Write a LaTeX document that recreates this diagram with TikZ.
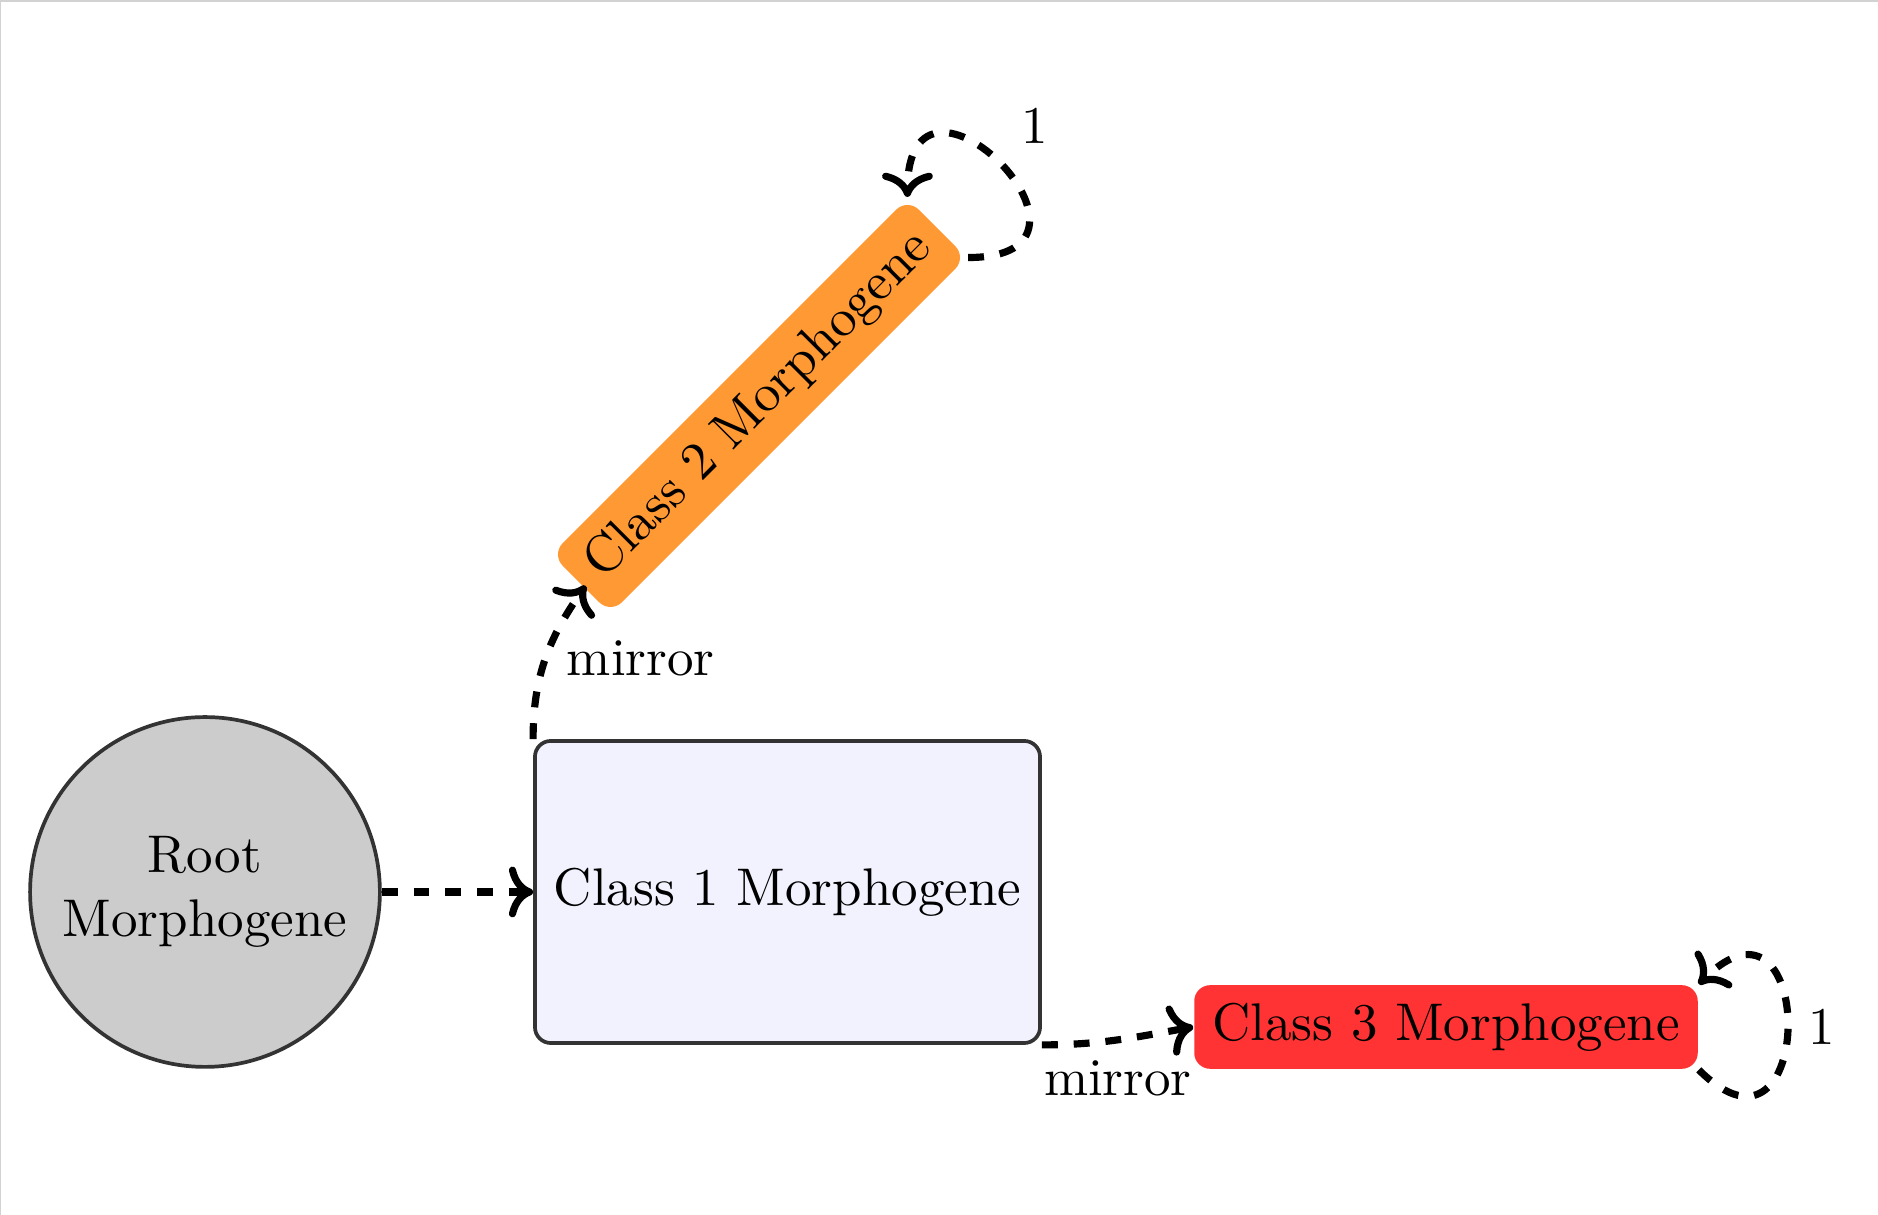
\documentclass[tikz,border=0pt]{standalone}
\usetikzlibrary{arrows.meta}
\definecolor{framegray}{RGB}{210,210,210}
\definecolor{edgegray}{RGB}{51,51,51}
\definecolor{rootfill}{RGB}{204,204,204}
\definecolor{c1fill}{RGB}{241,242,253}
\definecolor{c2fill}{RGB}{255,153,51}
\definecolor{c3fill}{RGB}{255,51,51}
\tikzset{
  rootnode/.style={circle, draw=edgegray, line width=0.7pt, fill=rootfill, minimum size=66pt, inner sep=2pt, align=center},
  classone/.style={rectangle, rounded corners=3pt, draw=edgegray, line width=0.7pt, fill=c1fill, minimum width=95.3pt, minimum height=57pt},
  classtwo/.style={rectangle, rounded corners=3pt, fill=c2fill, minimum width=95pt, minimum height=15.4pt, rotate=45},
  classthree/.style={rectangle, rounded corners=3pt, fill=c3fill, minimum width=95pt, minimum height=15.2pt},
  flow/.style={->, dashed, line width=1.35pt, black}
}
\begin{document}
\begin{tikzpicture}[x=0.18868pt, y=0.18868pt]
\useasboundingbox (0,0) rectangle (1878,-1215);
\draw[framegray, line width=0.4pt] (0,-1) -- (1878,-1);
\draw[framegray, line width=0.2pt] (0.5,0) -- (0.5,-1215);

\node[rootnode] (root) at (205,-892) {Root\\Morphogene};
\node[classone] (c1) at (787.5,-892) {Class 1 Morphogene};
\node[classtwo] (c2) at (759,-406) {Class 2 Morphogene};
\node[classthree] (c3) at (1446,-1027) {Class 3 Morphogene};

\draw[flow] (root.east) -- (c1.west);
\draw[flow] (c1.north west) to[out=90, in=235] node[midway, right] {mirror} ([shift={(1.0pt,-0.2pt)}]c2.west);
\draw[flow] (c1.south east) to[out=0, in=190] node[midway, below] {mirror} (c3.west);
\draw[flow] (c2.south east) to[out=0, in=90, looseness=5] node[midway, above right] {1} (c2.north east);
\draw[flow] (c3.south east) to[out=-45, in=45, looseness=5] node[midway, right] {1} (c3.north east);
\end{tikzpicture}
\end{document}
